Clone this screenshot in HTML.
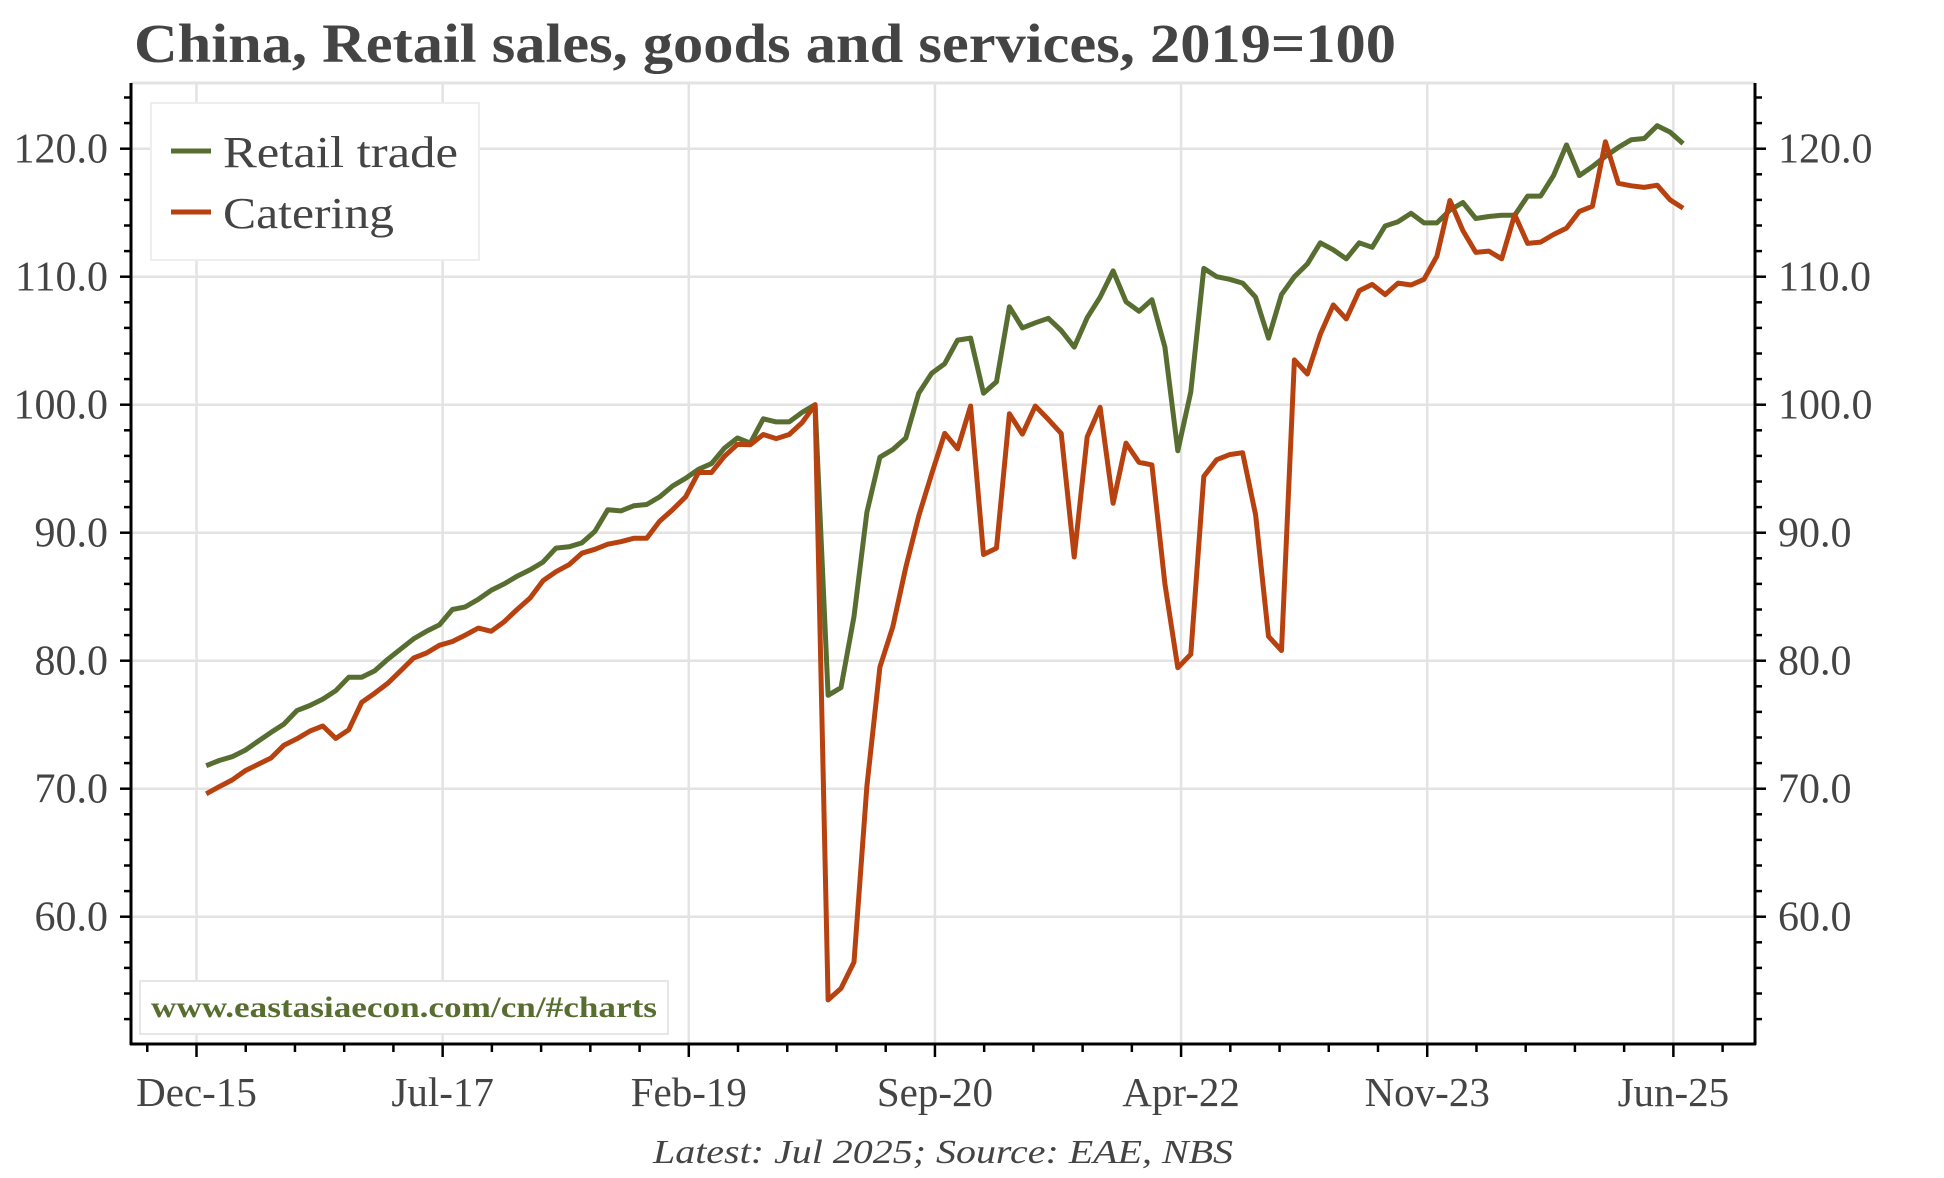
<!DOCTYPE html>
<html><head><meta charset="utf-8">
<style>
html,body{margin:0;padding:0;background:#fff;}
svg{display:block;}
text{font-family:"Liberation Serif",serif;fill:#444;}
</style></head>
<body>
<svg id="chart" width="1944" height="1178" viewBox="0 0 1944 1178" xmlns="http://www.w3.org/2000/svg">
<text x="134" y="62" font-size="55" font-weight="bold" textLength="1262" lengthAdjust="spacingAndGlyphs">China, Retail sales, goods and services, 2019=100</text>
<g id="grid"></g>
<g id="axes"></g>
<g id="series"></g>
<g>
  <rect x="151" y="103" width="328" height="157" fill="#fff" stroke="#eee" stroke-width="2"/>
  <line x1="171" y1="151" x2="211" y2="151" stroke="#586e31" stroke-width="5"/>
  <text x="223" y="167" font-size="44" textLength="235" lengthAdjust="spacingAndGlyphs">Retail trade</text>
  <line x1="171" y1="212" x2="211" y2="212" stroke="#b8420f" stroke-width="5"/>
  <text x="223" y="228" font-size="44" textLength="171" lengthAdjust="spacingAndGlyphs">Catering</text>
</g>
<g>
  <rect x="140" y="981" width="528" height="53" fill="#fff" stroke="#e6e6e6" stroke-width="2"/>
  <text x="151" y="1017" font-size="30" font-weight="bold" style="fill:#586e31" textLength="506" lengthAdjust="spacingAndGlyphs">www.eastasiaecon.com/cn/#charts</text>
</g>
<text x="943" y="1163" font-size="34" font-style="italic" text-anchor="middle" textLength="580" lengthAdjust="spacingAndGlyphs">Latest: Jul 2025; Source: EAE, NBS</text>
</svg>
<script>
// Data: monthly, Jan-16 .. Jul-25 (index 0 = Jan-16)
const retailTrade = [71.8,72.2,72.5,73.0,73.7,74.4,75.05,76.1,76.5,77.0,77.66,78.7,78.7,79.2,80.1,80.9,81.7,82.3,82.8,84.0,84.2,84.8,85.5,86.0,86.6,87.1,87.7,88.8,88.9,89.2,90.1,91.8,91.7,92.1,92.2,92.8,93.65,94.25,94.95,95.4,
96.6,97.4,97.0,98.9,98.66,98.66,99.4,100,77.3,77.9,83.45,91.6,95.9,96.5,97.4,100.9,
102.45,103.2,105.05,105.2,100.9,101.8,107.65,106.0,106.4,106.75,105.8,104.5,106.8,108.4,110.45,108.05,107.3,108.2,104.5,96.4,101.0,110.65,
110,109.8,109.5,108.4,105.2,108.6,110,111.0,112.65,112.1,111.4,112.65,112.3,
113.96,114.3,114.95,114.2,114.2,115.2,115.8,114.55,114.7,114.8,114.8,116.3,116.3,117.9,120.3,117.9,118.6,119.4,120.1,120.7,120.8,121.8,121.3,120.4];
const catering = [69.6,70.16,70.68,71.4,71.9,72.4,73.4,73.9,74.5,74.9,73.93,74.6,76.75,77.45,78.23,79.2,80.2,80.6,81.2,81.5,82.0,82.55,82.3,83.05,84.0,84.9,86.25,86.95,87.5,88.4,88.7,89.1,89.3,89.56,89.56,90.9,91.8,92.8,94.7,94.7,
95.97,96.9,96.87,97.67,97.35,97.67,98.6,100,53.5,54.4,56.45,70.2,79.5,82.65,87.3,91.3,94.6,97.76,96.55,99.9,88.3,88.8,99.3,97.7,99.9,98.85,97.76,88.1,97.5,99.8,92.3,97.0,95.5,95.3,86.0,79.45,80.5,94.4,
95.7,96.1,96.25,91.4,81.9,80.8,103.5,102.4,105.5,107.8,106.7,108.9,109.4,108.6,109.5,109.35,109.8,111.6,
115.95,113.6,111.9,112.0,111.4,114.85,112.6,112.7,113.3,113.8,115.1,115.5,120.55,117.3,117.1,116.98,117.15,116.0,115.35];
const xTickLabels = ["Dec-15","Jul-17","Feb-19","Sep-20","Apr-22","Nov-23","Jun-25"];
const xTickMonths = [0,19,38,57,76,95,114]; // months after Dec-15
const yTickValues = [60,70,80,90,100,110,120];
const firstMonth = 0.75; // plotted month offset of first point (relative to Dec-15)

const NS="http://www.w3.org/2000/svg";
const L=131, R=1755, T=83, B=1044;
function xScale(m){ return 196.5 + 12.955*m; }
function yScale(v){ return 148.7 + (120 - v)*12.8; }
function mk(tag, attrs, parent){ const e=document.createElementNS(NS,tag); for(const k in attrs) e.setAttribute(k,attrs[k]); parent.appendChild(e); return e; }
const grid=document.getElementById('grid'), axes=document.getElementById('axes'), series=document.getElementById('series');

let tf = mk('line',{x1:L,y1:T,x2:R,y2:T,stroke:'#e3e3e3','stroke-width':3},grid);



yTickValues.forEach(v=>{
  const y=yScale(v);
  const g=mk('line',{x1:L,y1:y,x2:R,y2:y,stroke:'#e3e3e3','stroke-width':2.5},grid);
  
  
  const tl=mk('text',{x:108,y:y+14,'font-size':42,'text-anchor':'end'},axes);
  tl.textContent=v.toFixed(1);
  
  
  const tr=mk('text',{x:1778,y:y+14,'font-size':42},axes);
  tr.textContent=v.toFixed(1);
  
  
});
xTickMonths.forEach((m,i)=>{
  const x=xScale(m);
  const g=mk('line',{x1:x,y1:T,x2:x,y2:B,stroke:'#e3e3e3','stroke-width':2.5},grid);
  
  
  const t=mk('line',{x1:x,y1:B,x2:x,y2:B+13,stroke:'#000','stroke-width':2.5},axes);
  
  
  const lb=mk('text',{x:x,y:1106,'font-size':41,'text-anchor':'middle'},axes);
  lb.textContent=xTickLabels[i];
  
  
});
for(let k=-1;k<=31;k++){
  if(k%5===0) continue;
  const x=xScale(k*3.8);
  if(x<L||x>R) continue;
  const t=mk('line',{x1:x,y1:B,x2:x,y2:B+8,stroke:'#000','stroke-width':2.5},axes);
  
  
}
for(let v=52; v<=124; v+=2){
  const y=yScale(v), major=(v%10===0);
  const len=major?11:7;
  const a=mk('line',{x1:L-len,y1:y,x2:L,y2:y,stroke:'#000','stroke-width':2.5},axes);
  
  
  const b=mk('line',{x1:R,y1:y,x2:R+len,y2:y,stroke:'#000','stroke-width':2.5},axes);
  
  
}
let la=mk('line',{x1:L,y1:T,x2:L,y2:B+1,stroke:'#000','stroke-width':3},axes);


let ra=mk('line',{x1:R,y1:T,x2:R,y2:B+1,stroke:'#000','stroke-width':3},axes);


let xa=mk('line',{x1:L-1,y1:B,x2:R+1,y2:B,stroke:'#000','stroke-width':3},axes);



function linePath(vals){ return vals.map((v,i)=>(i?'L':'M')+xScale(firstMonth+i).toFixed(1)+','+yScale(v).toFixed(1)).join(''); }
const p1=mk('path',{d:linePath(retailTrade),fill:'none',stroke:'#586e31','stroke-width':5,'stroke-linejoin':'round'},series);


const p2=mk('path',{d:linePath(catering),fill:'none',stroke:'#b8420f','stroke-width':5,'stroke-linejoin':'round'},series);


</script>
</body></html>
